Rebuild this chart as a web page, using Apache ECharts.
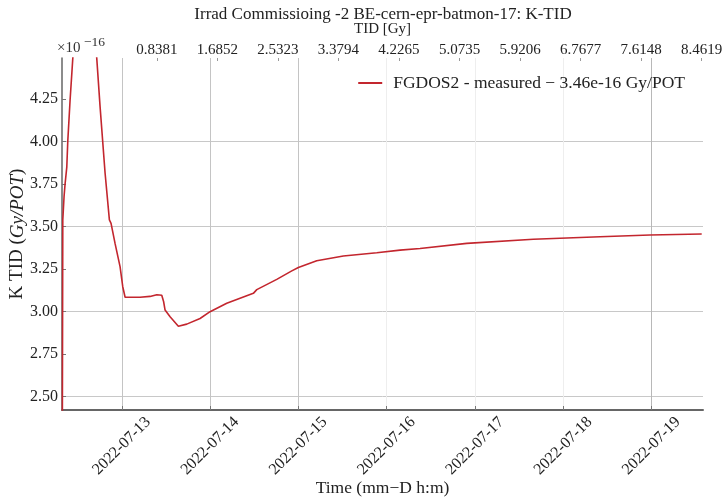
<!DOCTYPE html>
<html><head><meta charset="utf-8">
<script src="https://cdn.jsdelivr.net/npm/echarts@6/dist/echarts.min.js"></script>
<style>html,body{margin:0;padding:0;background:#fff}#c{width:727px;height:500px}</style>
</head><body><div id="c"></div>
<script>
// Measurement times (local time)
const times = [
  '2022-07-12T07:50', '2022-07-12T07:58', '2022-07-12T08:19', '2022-07-12T08:35',
  '2022-07-12T09:03', '2022-07-12T09:19', '2022-07-12T09:57', '2022-07-12T10:25',
  '2022-07-12T10:41', '2022-07-12T11:02', '2022-07-12T14:01', '2022-07-12T16:44',
  '2022-07-12T17:12', '2022-07-12T18:06', '2022-07-12T19:28', '2022-07-12T20:38',
  '2022-07-12T21:05', '2022-07-12T22:11', '2022-07-12T23:32', '2022-07-13T00:16',
  '2022-07-13T00:54', '2022-07-13T04:58', '2022-07-13T07:41', '2022-07-13T09:31',
  '2022-07-13T10:52', '2022-07-13T11:22', '2022-07-13T11:46', '2022-07-13T13:08',
  '2022-07-13T15:23', '2022-07-13T17:40', '2022-07-13T21:17', '2022-07-14T00:00',
  '2022-07-14T04:32', '2022-07-14T11:46', '2022-07-14T12:42', '2022-07-14T18:08',
  '2022-07-14T22:13', '2022-07-15T00:00', '2022-07-15T05:00', '2022-07-15T12:14',
  '2022-07-15T21:19', '2022-07-16T03:39', '2022-07-16T09:05', '2022-07-16T21:47',
  '2022-07-17T15:53', '2022-07-18T10:00', '2022-07-18T23:36', '2022-07-19T13:39'
];
// K TID in units of 1e-16 Gy/POT
const kTid = [
  2.20, 3.54, 3.68, 3.75,
  3.85, 4.00, 4.245, 4.40,
  4.49, 4.60, 4.90, 4.63,
  4.49, 4.206, 3.814, 3.54,
  3.52, 3.40, 3.265, 3.147,
  3.085, 3.085, 3.09, 3.10,
  3.097, 3.06, 3.01, 2.97,
  2.915, 2.927, 2.96, 3.00,
  3.05, 3.108, 3.13, 3.19,
  3.24, 3.26, 3.30, 3.328,
  3.347, 3.362, 3.372, 3.402,
  3.426, 3.441, 3.451, 3.457
];
const dateTicks = ['2022-07-13', '2022-07-14', '2022-07-15', '2022-07-16', '2022-07-17', '2022-07-18', '2022-07-19'];
const tidTickLabels = ['0.8381', '1.6852', '2.5323', '3.3794', '4.2265', '5.0735', '5.9206', '6.7677', '7.6148', '8.4619'];
const yTicks = [2.50, 2.75, 3.00, 3.25, 3.50, 3.75, 4.00, 4.25];
const seriesName = 'FGDOS2 - measured \u2212 3.46e-16 Gy/POT';

const FONT = 'Liberation Serif';
const toTs = s => new Date(s).getTime();
const dateTickTs = dateTicks.map(d => toTs(d + 'T00:00'));
const pad = n => (n < 10 ? '0' : '') + n;
const fmtDate = v => { const d = new Date(v); return d.getFullYear() + '-' + pad(d.getMonth() + 1) + '-' + pad(d.getDate()); };
const data = times.map((t, i) => [toTs(t), kTid[i]]);

const chart = echarts.init(document.getElementById('c'), null, {renderer: 'canvas'});
chart.setOption({
  animation: false,
  backgroundColor: '#fff',
  textStyle: {fontFamily: FONT},
  title: {
    text: 'Irrad Commissioing -2 BE-cern-epr-batmon-17: K-TID',
    left: 378, top: 1, textAlign: 'center',
    textStyle: {fontFamily: FONT, fontSize: 17, fontWeight: 'normal', color: '#222'}
  },
  graphic: [
    {type: 'text', left: 57, top: 41, style: {text: '\u00d710', font: '15px ' + FONT, fill: '#333'}},
    {type: 'text', left: 84, top: 35, style: {text: '\u221216', font: '13.5px ' + FONT, fill: '#333'}}
  ],
  legend: {
    data: [seriesName],
    right: 37, top: 69,
    icon: 'rect',
    itemWidth: 24, itemHeight: 2, itemGap: 10,
    textStyle: {fontFamily: FONT, fontSize: 17.5, color: '#222', padding: [0, 0, 0, 6]}
  },
  grid: {left: 62, right: 24, top: 58, bottom: 90, outerBoundsMode: 'none', containLabel: false},
  xAxis: [{
    type: 'value',
    position: 'bottom',
    min: toTs('2022-07-12T07:45'),
    max: toTs('2022-07-19T14:00'),
    name: 'Time (mm\u2212D h:m)',
    nameLocation: 'middle', nameGap: 69, nameMoveOverlap: false,
    nameTextStyle: {fontFamily: FONT, fontSize: 17.5, color: '#222'},
    axisLine: {show: true, onZero: false, lineStyle: {color: '#666', width: 2}},
    axisTick: {show: true, inside: true, length: 4, lineStyle: {color: '#777'}, customValues: dateTickTs},
    axisLabel: {
      customValues: dateTickTs, rotate: 45, align: 'center', verticalAlign: 'middle',
      margin: 36, fontFamily: FONT, fontSize: 16, color: '#222',
      formatter: v => fmtDate(v)
    },
    splitLine: {show: true, lineStyle: {color: ['#c4c4c4', '#c4c4c4', '#c4c4c4', '#eeeeee', '#eeeeee', '#eeeeee', '#b8b8b8'], width: 1}}
  }, {
    type: 'value',
    position: 'top',
    min: -0.488, max: 8.48,
    name: 'TID [Gy]',
    nameLocation: 'middle', nameGap: 21, nameMoveOverlap: false,
    nameTextStyle: {fontFamily: FONT, fontSize: 15, color: '#222'},
    axisLine: {show: false, onZero: false},
    axisTick: {show: true, inside: true, length: 3, lineStyle: {color: '#999'}, customValues: tidTickLabels.map(Number)},
    axisLabel: {
      customValues: tidTickLabels.map(Number), margin: 0,
      fontFamily: FONT, fontSize: 15, color: '#222',
      formatter: v => v.toFixed(4)
    },
    splitLine: {show: false}
  }],
  yAxis: {
    type: 'value',
    min: 2.422, max: 4.492,
    name: 'K TID ({i|Gy/POT})',
    nameLocation: 'middle', nameGap: 35, nameMoveOverlap: false,
    nameTextStyle: {fontFamily: FONT, fontSize: 19, color: '#222', rich: {i: {fontFamily: FONT, fontSize: 19, fontStyle: 'italic', color: '#222'}}},
    axisLine: {show: true, onZero: false, lineStyle: {color: '#666', width: 1.5}},
    axisTick: {show: true, inside: true, length: 4, lineStyle: {color: '#777'}, customValues: yTicks},
    axisLabel: {customValues: yTicks, margin: 4, fontFamily: FONT, fontSize: 16, color: '#222', formatter: v => v.toFixed(2)},
    splitLine: {show: true, lineStyle: {color: ['#c8c8c8', 'rgba(0,0,0,0)'], width: 1}}
  },
  series: [{
    name: seriesName,
    type: 'line',
    xAxisIndex: 0, yAxisIndex: 0,
    data: data,
    symbol: 'none', showSymbol: false,
    clip: true,
    lineStyle: {color: '#c3262e', width: 1.6},
    itemStyle: {color: '#c3262e'}
  }]
});
</script></body></html>
